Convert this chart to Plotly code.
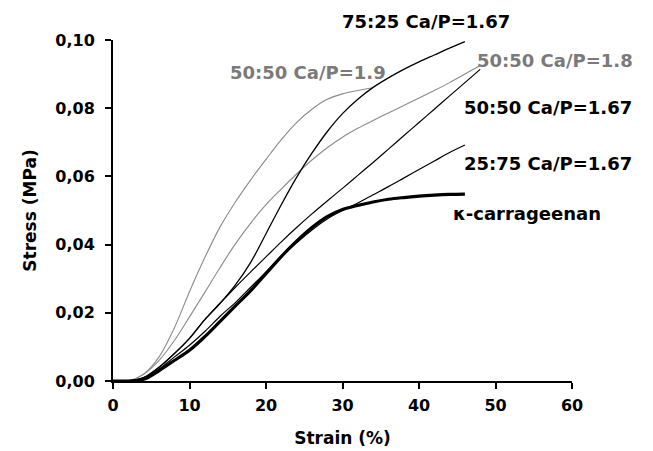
import plotly.graph_objects as go

# ---- data ----
strain_19 = [0, 2, 4, 6, 8, 10, 12, 14, 16, 18, 20, 22, 24, 26, 28, 30, 32, 34]
stress_19 = [0, 0, 0.002, 0.007, 0.0155, 0.0262, 0.0362, 0.0452, 0.0525, 0.059, 0.065,
             0.0708, 0.0758, 0.0797, 0.0826, 0.0842, 0.0852, 0.086]

strain_18 = [0, 2, 4, 6, 8, 10, 12, 14, 16, 18, 20, 22, 24, 26, 28, 30, 32, 34, 36,
             38, 40, 42, 44, 46, 48]
stress_18 = [0, 0, 0.002, 0.006, 0.0118, 0.0188, 0.026, 0.0333, 0.0402, 0.0463, 0.0517,
             0.0563, 0.0607, 0.0648, 0.0684, 0.0715, 0.0741, 0.0764, 0.0786, 0.0808,
             0.083, 0.0852, 0.0875, 0.090, 0.0925]

strain_7525 = [0, 2, 4, 6, 8, 10, 12, 14, 16, 18, 20, 22, 24, 26, 28, 30, 32, 34, 36,
               38, 40, 42, 44, 46]
stress_7525 = [0, 0, 0.001, 0.004, 0.008, 0.0125, 0.018, 0.0228, 0.0282, 0.0348, 0.0432,
               0.0517, 0.0597, 0.0668, 0.0731, 0.0784, 0.0826, 0.0861, 0.0889, 0.0914,
               0.0936, 0.0956, 0.0976, 0.0995]

strain_5050 = [0, 2, 4, 6, 8, 10, 12, 14, 16, 18, 20, 22, 24, 26, 28, 30, 32, 34, 36,
               38, 40, 42, 44, 46, 48]
stress_5050 = [0, 0, 0.001, 0.004, 0.008, 0.0125, 0.018, 0.0228, 0.0275, 0.032, 0.0364,
               0.0408, 0.0450, 0.0490, 0.0528, 0.0565, 0.0603, 0.0641, 0.0680, 0.0719,
               0.0758, 0.0797, 0.0836, 0.0875, 0.0914]

strain_2575 = [0, 2, 4, 6, 8, 10, 12, 14, 16, 18, 20, 22, 24, 26, 28, 30, 32, 34, 36,
               38, 40, 42, 44, 46]
stress_2575 = [0, 0, 0.0008, 0.0035, 0.007, 0.0105, 0.0145, 0.019, 0.023, 0.0275,
               0.032, 0.0365, 0.0405, 0.0443, 0.0475, 0.050, 0.0522, 0.0546, 0.057,
               0.0595, 0.062, 0.0645, 0.067, 0.0692]

strain_kc = [0, 2, 4, 6, 8, 10, 12, 14, 16, 18, 20, 22, 24, 26, 28, 30, 32, 34, 36,
             38, 40, 42, 44, 46]
stress_kc = [0, 0, 0.0005, 0.003, 0.006, 0.009, 0.013, 0.0175, 0.022, 0.0265, 0.0315,
             0.0365, 0.041, 0.045, 0.0482, 0.0503, 0.0515, 0.0525, 0.0533, 0.0538,
             0.0542, 0.0545, 0.0547, 0.0548]

labels = ["50:50 Ca/P=1.9", "50:50 Ca/P=1.8",
          "50:50 Ca/P=1.67", "25:75 Ca/P=1.67", "κ-carrageenan"]
label_x = [25.5, 57.8, 56.9, 56.9, 54.1]
label_y = [0.0905, 0.0940, 0.0802, 0.0638, 0.0492]
label_col = ["#7a7a7a", "#7a7a7a", "black", "black", "black"]
top_label = "75:25 Ca/P=1.67"
top_label_x = 40.9

x_ticks = [0, 10, 20, 30, 40, 50, 60]
y_ticks = [0.00, 0.02, 0.04, 0.06, 0.08, 0.10]

GREY = "#8a8a8a"
FONT = "DejaVu Sans"

fig = go.Figure()
series = [
    (strain_19, stress_19, GREY, 1.1),
    (strain_18, stress_18, GREY, 1.1),
    (strain_2575, stress_2575, "black", 1.2),
    (strain_5050, stress_5050, "black", 1.2),
    (strain_7525, stress_7525, "black", 1.3),
    (strain_kc, stress_kc, "black", 3.2),
]
for xs, ys, col, w in series:
    fig.add_trace(go.Scatter(x=xs, y=ys, mode="lines",
                             line=dict(color=col, width=w, shape="spline", smoothing=1.0),
                             showlegend=False, hoverinfo="skip"))

for t, x, y, c in zip(labels, label_x, label_y, label_col):
    fig.add_annotation(x=x, y=y, xref="x", yref="y", text="<b>%s</b>" % t,
                       showarrow=False, xanchor="center", yanchor="middle",
                       font=dict(family=FONT, size=18, color=c))
# label above the plotting area
fig.add_annotation(x=top_label_x, y=1.053, xref="x", yref="paper",
                   text="<b>%s</b>" % top_label, showarrow=False,
                   xanchor="center", yanchor="middle",
                   font=dict(family=FONT, size=18, color="black"))

axis_common = dict(showline=True, linecolor="black", linewidth=2,
                   ticks="outside", ticklen=6, tickwidth=2, tickcolor="black",
                   showgrid=False, zeroline=False,
                   tickfont=dict(family=FONT, size=16, color="black", weight="bold"),
                   title_font=dict(family=FONT, size=17, color="black"))

fig.update_xaxes(range=[0, 60], tickvals=x_ticks, ticklabelstandoff=3,
                 title=dict(text="<b>Strain (%)</b>", standoff=18), **axis_common)
fig.update_yaxes(range=[0, 0.10], tickvals=y_ticks, tickformat=".2f",
                 ticklabelstandoff=7,
                 title=dict(text="<b>Stress (MPa)</b>", standoff=14), **axis_common)

fig.update_layout(width=653, height=451, separators=",.",
                  margin=dict(l=113, r=81, t=40, b=70, autoexpand=False),
                  paper_bgcolor="white", plot_bgcolor="white",
                  font=dict(family=FONT, color="black"))

fig.write_html("out.html")
